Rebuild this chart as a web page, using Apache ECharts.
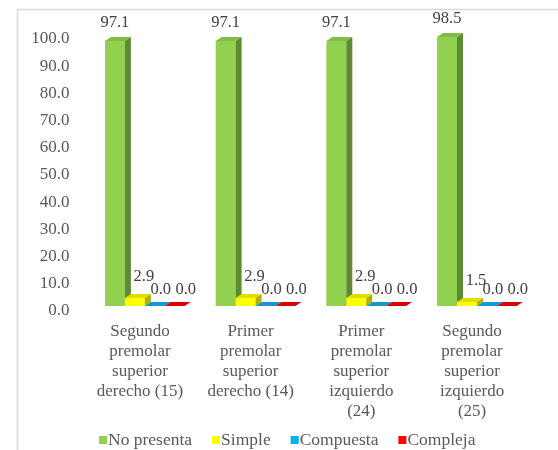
<!DOCTYPE html>
<html>
<head>
<meta charset="utf-8">
<script src="https://cdn.jsdelivr.net/npm/echarts@6/dist/echarts.min.js"></script>
<style>html,body{margin:0;padding:0;background:#fff;}#c{width:558px;height:450px;}</style>
</head>
<body>
<div id="c"></div>
<script>
var categories = [
  "Segundo\npremolar\nsuperior\nderecho (15)",
  "Primer\npremolar\nsuperior\nderecho (14)",
  "Primer\npremolar\nsuperior\nizquierdo\n(24)",
  "Segundo\npremolar\nsuperior\nizquierdo\n(25)"
];
var seriesNames = ["No presenta", "Simple", "Compuesta", "Compleja"];
var noPresenta = [97.1, 97.1, 97.1, 98.5];
var simple = [2.9, 2.9, 2.9, 1.5];
var compuesta = [0.0, 0.0, 0.0, 0.0];
var compleja = [0.0, 0.0, 0.0, 0.0];
var yTicks = [0, 100, 10];

var seriesValues = [noPresenta, simple, compuesta, compleja];
var faceColors = [
  {front: "#92D050", top: "#80BD45", side: "#5E8A32"},
  {front: "#FFFF00", top: "#E0E000", side: "#B0B000"},
  {front: "#00B0F0", top: "#1996D0", side: "#0080B0"},
  {front: "#FF0000", top: "#D80000", side: "#A00000"}
];
var labelDx = [0, 9, 6, 11];
var labelDy = [-14, -17, -12, -12];
var FONT = "Liberation Serif";
var DX = 6, DY = 4;

function makeRender(si) {
  return function (params, api) {
    var cat = api.value(0), v = api.value(1);
    var base = api.coord([cat, 0]);
    var top = api.coord([cat, v]);
    var bw = api.size([1, 0])[0];
    var w = bw * 0.18;
    var x0 = base[0] - bw * 0.316 + si * w;
    var by = base[1], ty = top[1];
    var c = faceColors[si];
    var children = [];
    if (by - ty > 0.01) {
      children.push({type: "rect", shape: {x: x0, y: ty, width: w, height: by - ty}, style: {fill: c.front}});
      children.push({type: "polygon", shape: {points: [[x0 + w, ty], [x0 + w + DX, ty - DY], [x0 + w + DX, by - DY], [x0 + w, by]]}, style: {fill: c.side}});
    }
    children.push({type: "polygon", shape: {points: [[x0, ty], [x0 + DX, ty - DY], [x0 + w + DX, ty - DY], [x0 + w, ty]]}, style: {fill: c.top}});
    children.push({type: "text", style: {text: v.toFixed(1), x: x0 + w / 2 + labelDx[si], y: ty - DY + labelDy[si], align: "center", verticalAlign: "middle", fontSize: 16.5, fontFamily: FONT, fill: "#404040"}});
    return {type: "group", children: children};
  };
}

var series = seriesValues.map(function (vals, si) {
  return {
    name: seriesNames[si],
    type: "custom",
    xAxisIndex: 1,
    yAxisIndex: 1,
    clip: false,
    itemStyle: {color: faceColors[si].front},
    renderItem: makeRender(si),
    data: vals.map(function (v, i) { return [i, v]; })
  };
});

var chart = echarts.init(document.getElementById("c"));
chart.setOption({
  animation: false,
  backgroundColor: "#fff",
  graphic: [{type: "rect", left: 15, top: 7, shape: {width: 600, height: 500}, style: {fill: "none", stroke: "#D9D9D9", lineWidth: 1.5}, silent: true}],
  grid: [
    {left: 84.6, top: 39, width: 442.8, height: 272},
    {left: 84.6, top: 33, width: 442.8, height: 273}
  ],
  xAxis: [
    {type: "category", gridIndex: 0, data: categories, axisLine: {show: false}, axisTick: {show: false},
     axisLabel: {margin: 10, interval: 0, fontSize: 17, fontFamily: FONT, color: "#595959", lineHeight: 20.2}},
    {type: "category", gridIndex: 1, data: categories, show: false}
  ],
  yAxis: [
    {type: "value", gridIndex: 0, min: yTicks[0], max: yTicks[1], interval: yTicks[2], splitLine: {show: false},
     axisLine: {show: false}, axisTick: {show: false},
     axisLabel: {margin: 15, fontSize: 17, fontFamily: FONT, color: "#595959", formatter: function (v) { return v.toFixed(1); }}},
    {type: "value", gridIndex: 1, min: yTicks[0], max: yTicks[1], show: false}
  ],
  legend: {
    data: seriesNames, left: 99, top: 431, padding: 0, icon: "rect", itemWidth: 8, itemHeight: 8, itemGap: 20,
    textStyle: {fontSize: 17.5, fontFamily: FONT, color: "#595959", padding: [0, 0, 0, -4]}
  },
  series: series
});
</script>
</body>
</html>
